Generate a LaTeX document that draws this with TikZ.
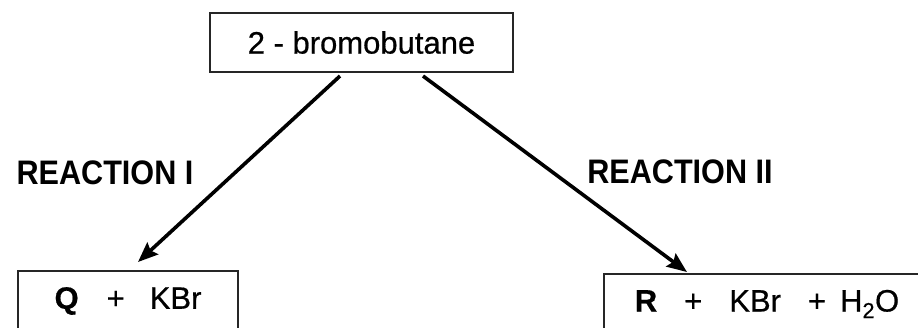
\documentclass[tikz,border=0pt]{standalone}
\usepackage{fontspec}
\setmainfont[FakeBold=0.6]{Liberation Sans}
\newfontfamily\labfont[FakeStretch=0.9]{Liberation Sans}
\usetikzlibrary{arrows.meta}
\begin{document}
\begin{tikzpicture}[x=1pt,y=-1pt,
  boxnode/.style={draw=black!85,line width=2pt,rectangle,inner sep=0pt,font=\fontsize{31}{36}\selectfont},
  labnode/.style={inner sep=0pt,font=\labfont\fontsize{34}{40}\selectfont\bfseries},
  reactarrow/.style={line width=3.6pt,-{Stealth[length=20pt,width=16pt,inset=3pt]}}]
\useasboundingbox (0,0) rectangle (918,327);
\clip (0,0) rectangle (918,327);
\node[boxnode,minimum width=303pt,minimum height=59pt] (top) at (361.5,42.5) {2 - bromobutane};
\node[boxnode,minimum width=220pt,minimum height=60pt] (q) at (128,301)
  {\textbf{Q}\hspace{28pt}+\hspace{25pt}KBr};
\node[boxnode,minimum width=326pt,minimum height=60pt] (r) at (767,304)
  {\textbf{R}\hspace{27pt}+\hspace{27pt}KBr\hspace{27pt}+\hspace{14pt}H\textsubscript{2}O\hspace{8pt}};
\node[labnode] (l1) at (105,173) {REACTION I};
\node[labnode] (l2) at (680,172) {REACTION II};
\draw[reactarrow] ([xshift=-21.5pt,yshift=-3pt]top.south) -- ([xshift=10pt,yshift=8pt]q.north);
\draw[reactarrow] ([xshift=61.5pt,yshift=-3pt]top.south) -- ([xshift=-80pt,yshift=1pt]r.north);
\end{tikzpicture}
\end{document}
